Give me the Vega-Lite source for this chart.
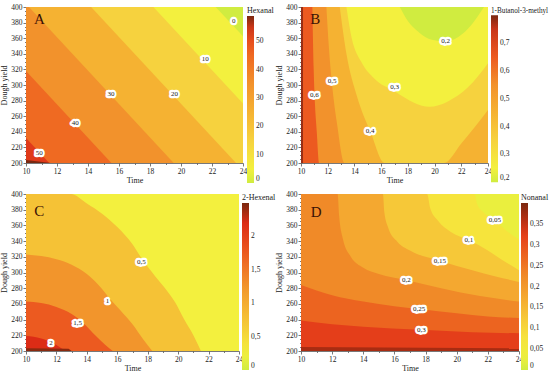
{
"$schema": "https://vega.github.io/schema/vega-lite/v6.json",
"background": "white",
"padding": {"left": 0, "top": 3, "right": 0, "bottom": 0},
"datasets": {
"A": [
{"v":0,"t":10,"y":400},{"v":0,"t":24,"y":400},
{"v":5,"t":10,"y":400},{"v":5,"t":22.24,"y":400},{"v":5,"t":24,"y":362.4},
{"v":15,"t":10,"y":400},{"v":15,"t":18.22,"y":400},{"v":15,"t":24,"y":276.4},
{"v":25,"t":10,"y":400},{"v":25,"t":14.2,"y":400},{"v":25,"t":23.55,"y":200},
{"v":35,"t":10,"y":400},{"v":35,"t":10.19,"y":400},{"v":35,"t":19.53,"y":200},
{"v":45,"t":10,"y":318},{"v":45,"t":15.51,"y":200},
{"v":54,"t":10,"y":232},{"v":54,"t":11.5,"y":200},
{"v":59,"t":10,"y":204},{"v":59,"t":11.6,"y":200}
],
"B": [
{"v":0.78,"t":10,"y":200},{"v":0.78,"t":24,"y":200},
{"v":0.65,"t":10.15,"y":200},{"v":0.65,"t":24,"y":200},
{"v":0.55,"t":10.85,"y":400},{"v":0.55,"t":10.95,"y":320},{"v":0.55,"t":11.02,"y":285},{"v":0.55,"t":11.18,"y":240},{"v":0.55,"t":11.35,"y":200},{"v":0.55,"t":24,"y":200},
{"v":0.45,"t":11.9,"y":400},{"v":0.45,"t":12.08,"y":350},{"v":0.45,"t":12.3,"y":305},{"v":0.45,"t":12.7,"y":250},{"v":0.45,"t":13.25,"y":200},{"v":0.45,"t":24,"y":200},
{"v":0.35,"t":12.9,"y":400},{"v":0.35,"t":13.4,"y":340},{"v":0.35,"t":14.2,"y":285},{"v":0.35,"t":15.2,"y":240},{"v":0.35,"t":16.25,"y":200},{"v":0.35,"t":20.7,"y":200},{"v":0.35,"t":22,"y":225},{"v":0.35,"t":24,"y":268},
{"v":0.25,"t":13.4,"y":400},{"v":0.25,"t":13.8,"y":360},{"v":0.25,"t":14.5,"y":330},{"v":0.25,"t":15.5,"y":308},{"v":0.25,"t":17,"y":292},{"v":0.25,"t":18.5,"y":277},{"v":0.25,"t":19.6,"y":272},{"v":0.25,"t":21,"y":279},{"v":0.25,"t":22.5,"y":297},{"v":0.25,"t":24,"y":328},
{"v":0.2,"t":17.4,"y":400},{"v":0.2,"t":18,"y":382},{"v":0.2,"t":18.8,"y":368},{"v":0.2,"t":19.8,"y":358},{"v":0.2,"t":20.8,"y":356},{"v":0.2,"t":21.8,"y":362},{"v":0.2,"t":22.8,"y":378},{"v":0.2,"t":23.7,"y":400}
],
"C": [
{"v":0.25,"t":10,"y":400},{"v":0.25,"t":24,"y":400},
{"v":0.75,"t":10,"y":400},{"v":0.75,"t":12.95,"y":400},{"v":0.75,"t":14,"y":388},{"v":0.75,"t":15,"y":375},{"v":0.75,"t":16,"y":358},{"v":0.75,"t":17,"y":336},{"v":0.75,"t":17.6,"y":318},{"v":0.75,"t":18.5,"y":295},{"v":0.75,"t":19.1,"y":281},{"v":0.75,"t":19.8,"y":262},{"v":0.75,"t":20.4,"y":240},{"v":0.75,"t":21,"y":220},{"v":0.75,"t":21.5,"y":200},
{"v":1.25,"t":10,"y":323},{"v":1.25,"t":11,"y":321},{"v":1.25,"t":12,"y":317},{"v":1.25,"t":13,"y":310},{"v":1.25,"t":14,"y":298},{"v":1.25,"t":15,"y":279},{"v":1.25,"t":15.5,"y":267},{"v":1.25,"t":16.2,"y":252},{"v":1.25,"t":17,"y":234},{"v":1.25,"t":17.7,"y":215},{"v":1.25,"t":18.3,"y":200},
{"v":1.75,"t":10,"y":263},{"v":1.75,"t":11,"y":261},{"v":1.75,"t":12,"y":256},{"v":1.75,"t":13,"y":247},{"v":1.75,"t":13.8,"y":235},{"v":1.75,"t":14.6,"y":219},{"v":1.75,"t":15.2,"y":208},{"v":1.75,"t":15.7,"y":200},
{"v":2.2,"t":10,"y":219},{"v":2.2,"t":11,"y":216},{"v":2.2,"t":11.7,"y":211},{"v":2.2,"t":12.2,"y":205},{"v":2.2,"t":12.6,"y":200},
{"v":2.45,"t":10,"y":203.5},{"v":2.45,"t":12.8,"y":203},{"v":2.45,"t":13,"y":200}
],
"D": [
{"v":0.025,"t":10,"y":400},{"v":0.025,"t":24,"y":400},
{"v":0.075,"t":10,"y":400},{"v":0.075,"t":21.15,"y":400},{"v":0.075,"t":21.3,"y":388},{"v":0.075,"t":21.7,"y":377},{"v":0.075,"t":22.45,"y":367},{"v":0.075,"t":23.2,"y":353},{"v":0.075,"t":24,"y":342},
{"v":0.125,"t":10,"y":400},{"v":0.125,"t":18.1,"y":400},{"v":0.125,"t":18.3,"y":382},{"v":0.125,"t":18.8,"y":366},{"v":0.125,"t":19.6,"y":352},{"v":0.125,"t":20.8,"y":341},{"v":0.125,"t":22,"y":328},{"v":0.125,"t":23,"y":315},{"v":0.125,"t":24,"y":303},
{"v":0.175,"t":10,"y":400},{"v":0.175,"t":15.26,"y":400},{"v":0.175,"t":15.35,"y":377},{"v":0.175,"t":15.6,"y":357},{"v":0.175,"t":16.2,"y":339},{"v":0.175,"t":17,"y":328},{"v":0.175,"t":18.9,"y":315},{"v":0.175,"t":21,"y":303},{"v":0.175,"t":22.5,"y":295},{"v":0.175,"t":24,"y":288},
{"v":0.225,"t":10,"y":400},{"v":0.225,"t":12.35,"y":400},{"v":0.225,"t":12.45,"y":372},{"v":0.225,"t":12.7,"y":342},{"v":0.225,"t":13.2,"y":320},{"v":0.225,"t":14,"y":306},{"v":0.225,"t":15,"y":298},{"v":0.225,"t":16.8,"y":290},{"v":0.225,"t":19,"y":280},{"v":0.225,"t":21.5,"y":270},{"v":0.225,"t":24,"y":263},
{"v":0.275,"t":10,"y":284},{"v":0.275,"t":11,"y":277},{"v":0.275,"t":12,"y":271},{"v":0.275,"t":14,"y":263},{"v":0.275,"t":16,"y":257},{"v":0.275,"t":17.6,"y":253.5},{"v":0.275,"t":20,"y":248},{"v":0.275,"t":22,"y":244},{"v":0.275,"t":24,"y":242},
{"v":0.325,"t":10,"y":239},{"v":0.325,"t":12,"y":234},{"v":0.325,"t":14,"y":231},{"v":0.325,"t":17.7,"y":227},{"v":0.325,"t":21,"y":224},{"v":0.325,"t":24,"y":222.5},
{"v":0.37,"t":10,"y":205},{"v":0.37,"t":24,"y":203.5}
],
"Alab": [{"t":10.86,"y":213,"s":"50"},{"t":13.17,"y":251,"s":"40"},{"t":15.49,"y":288.5,"s":"30"},{"t":19.58,"y":288.5,"s":"20"},{"t":21.57,"y":333.8,"s":"10"},{"t":23.4,"y":381.6,"s":"0"}],
"Blab": [{"t":11.0,"y":286.8,"s":"0,6"},{"t":12.33,"y":304.7,"s":"0,5"},{"t":15.18,"y":240.6,"s":"0,4"},{"t":17.0,"y":297,"s":"0,3"},{"t":20.83,"y":356,"s":"0,2"}],
"Clab": [{"t":17.59,"y":313.3,"s":"0,5"},{"t":15.36,"y":263.9,"s":"1"},{"t":13.39,"y":236,"s":"1,5"},{"t":11.64,"y":210.6,"s":"2"}],
"Dlab": [{"t":22.45,"y":366.9,"s":"0,05"},{"t":20.78,"y":341.4,"s":"0,1"},{"t":18.92,"y":315.1,"s":"0,15"},{"t":16.77,"y":290.4,"s":"0,2"},{"t":17.58,"y":253.5,"s":"0,25"},{"t":17.73,"y":226.8,"s":"0,3"}]
},
"vconcat": [
{"hconcat": [
{
"width": 217, "height": 156,
"encoding": {
"x": {"field": "t", "type": "quantitative", "title": "Time", "scale": {"domain": [10, 24], "nice": false, "zero": false}, "axis": {"values": [10,11,12,13,14,15,16,17,18,19,20,21,22,23,24], "labelExpr": "datum.value % 2 === 0 ? datum.label : ''", "tickSize": {"condition": {"test": "datum.value % 2 === 0", "value": 3}, "value": 1.5}, "labelFlush": false}},
"y": {"field": "y", "type": "quantitative", "title": "Dough yield", "scale": {"domain": [200, 400], "nice": false, "zero": false}, "axis": {"values": [200,205,210,215,220,225,230,235,240,245,250,255,260,265,270,275,280,285,290,295,300,305,310,315,320,325,330,335,340,345,350,355,360,365,370,375,380,385,390,395,400], "labelExpr": "datum.value % 20 === 0 ? datum.label : ''", "tickSize": {"condition": {"test": "datum.value % 20 === 0", "value": 3}, "value": 1.5}, "labelFlush": false}}
},
"layer": [
{"data": {"name": "A"},
"encoding": {"y2": {"datum": 200}, "color": {"field": "v", "type": "quantitative", "title": "Hexanal", "scale": {"type": "linear", "domain": [0,5,15,25,35,45,54,59], "range": ["#d0ec40","#f3f03e","#f6d23e","#f5b232","#f2922c","#ef6a22","#e03a1a","#7a2810"], "interpolate": "rgb", "clamp": true}, "legend": {"values": [0,10,20,30,40,50], "labelExpr": "replace(toString(datum.value), '.', ',')"}}},
"layer": [
{"transform": [{"filter": {"field": "v", "equal": 0}}], "mark": {"type": "area", "clip": true}},
{"transform": [{"filter": {"field": "v", "equal": 5}}], "mark": {"type": "area", "clip": true}},
{"transform": [{"filter": {"field": "v", "equal": 15}}], "mark": {"type": "area", "clip": true}},
{"transform": [{"filter": {"field": "v", "equal": 25}}], "mark": {"type": "area", "clip": true}},
{"transform": [{"filter": {"field": "v", "equal": 35}}], "mark": {"type": "area", "clip": true}},
{"transform": [{"filter": {"field": "v", "equal": 45}}], "mark": {"type": "area", "clip": true}},
{"transform": [{"filter": {"field": "v", "equal": 54}}], "mark": {"type": "area", "clip": true}},
{"transform": [{"filter": {"field": "v", "equal": 59}}], "mark": {"type": "area", "clip": true}}
]},
{"data": {"name": "Alab"}, "mark": {"type": "text", "fontSize": 7, "fill": "white", "stroke": "white", "strokeWidth": 4.5, "strokeJoin": "round"}, "encoding": {"text": {"field": "s", "type": "nominal"}}},
{"data": {"name": "Alab"}, "mark": {"type": "text", "fontSize": 7, "fill": "#222"}, "encoding": {"text": {"field": "s", "type": "nominal"}}},
{"data": {"values": [{"t": 10.86, "y": 384, "s": "A"}]}, "mark": {"type": "text", "fontSize": 15, "fill": "#3a1005"}, "encoding": {"text": {"field": "s", "type": "nominal"}}}
]
},
{
"width": 187, "height": 156,
"encoding": {
"x": {"field": "t", "type": "quantitative", "title": "Time", "scale": {"domain": [10, 24], "nice": false, "zero": false}, "axis": {"values": [10,11,12,13,14,15,16,17,18,19,20,21,22,23,24], "labelExpr": "datum.value % 2 === 0 ? datum.label : ''", "tickSize": {"condition": {"test": "datum.value % 2 === 0", "value": 3}, "value": 1.5}, "labelFlush": false}},
"y": {"field": "y", "type": "quantitative", "title": "Dough yield", "scale": {"domain": [200, 400], "nice": false, "zero": false}, "axis": {"values": [200,205,210,215,220,225,230,235,240,245,250,255,260,265,270,275,280,285,290,295,300,305,310,315,320,325,330,335,340,345,350,355,360,365,370,375,380,385,390,395,400], "labelExpr": "datum.value % 20 === 0 ? datum.label : ''", "tickSize": {"condition": {"test": "datum.value % 20 === 0", "value": 3}, "value": 1.5}, "labelFlush": false}}
},
"layer": [
{"data": {"name": "B"},
"encoding": {"y2": {"datum": 400}, "color": {"field": "v", "type": "quantitative", "title": "1-Butanol-3-methyl", "scale": {"type": "linear", "domain": [0.2,0.25,0.35,0.45,0.55,0.65,0.75,0.8], "range": ["#d0ec40","#f3f03e","#f6d23e","#f5b232","#f2922c","#ec5a20","#c8361a","#7a2810"], "interpolate": "rgb", "clamp": true}, "legend": {"values": [0.2,0.3,0.4,0.5,0.6,0.7], "labelExpr": "replace(toString(datum.value), '.', ',')", "titleFontSize": 7.2, "offset": 3}}},
"layer": [
{"transform": [{"filter": {"field": "v", "equal": 0.78}}], "mark": {"type": "area", "clip": true, "interpolate": "monotone"}},
{"transform": [{"filter": {"field": "v", "equal": 0.65}}], "mark": {"type": "area", "clip": true, "interpolate": "monotone"}},
{"transform": [{"filter": {"field": "v", "equal": 0.55}}], "mark": {"type": "area", "clip": true, "interpolate": "monotone"}},
{"transform": [{"filter": {"field": "v", "equal": 0.45}}], "mark": {"type": "area", "clip": true, "interpolate": "monotone"}},
{"transform": [{"filter": {"field": "v", "equal": 0.35}}], "mark": {"type": "area", "clip": true, "interpolate": "monotone"}},
{"transform": [{"filter": {"field": "v", "equal": 0.25}}], "mark": {"type": "area", "clip": true, "interpolate": "monotone"}},
{"transform": [{"filter": {"field": "v", "equal": 0.2}}], "mark": {"type": "area", "clip": true, "interpolate": "monotone"}}
]},
{"data": {"name": "Blab"}, "mark": {"type": "text", "fontSize": 7, "fill": "white", "stroke": "white", "strokeWidth": 4.5, "strokeJoin": "round"}, "encoding": {"text": {"field": "s", "type": "nominal"}}},
{"data": {"name": "Blab"}, "mark": {"type": "text", "fontSize": 7, "fill": "#222"}, "encoding": {"text": {"field": "s", "type": "nominal"}}},
{"data": {"values": [{"t": 11.07, "y": 384, "s": "B"}]}, "mark": {"type": "text", "fontSize": 15, "fill": "#3a1005"}, "encoding": {"text": {"field": "s", "type": "nominal"}}}
]
}
], "spacing": 58, "bounds": "flush", "resolve": {"scale": {"color": "independent", "x": "independent", "y": "independent"}, "legend": {"color": "independent"}}},
{"hconcat": [
{
"width": 213, "height": 157,
"encoding": {
"x": {"field": "t", "type": "quantitative", "title": "Time", "scale": {"domain": [10, 24], "nice": false, "zero": false}, "axis": {"values": [10,11,12,13,14,15,16,17,18,19,20,21,22,23,24], "labelExpr": "datum.value % 2 === 0 ? datum.label : ''", "tickSize": {"condition": {"test": "datum.value % 2 === 0", "value": 3}, "value": 1.5}, "labelFlush": false}},
"y": {"field": "y", "type": "quantitative", "title": "Dough yield", "scale": {"domain": [200, 400], "nice": false, "zero": false}, "axis": {"values": [200,205,210,215,220,225,230,235,240,245,250,255,260,265,270,275,280,285,290,295,300,305,310,315,320,325,330,335,340,345,350,355,360,365,370,375,380,385,390,395,400], "labelExpr": "datum.value % 20 === 0 ? datum.label : ''", "tickSize": {"condition": {"test": "datum.value % 20 === 0", "value": 3}, "value": 1.5}, "labelFlush": false}}
},
"layer": [
{"data": {"name": "C"},
"encoding": {"y2": {"datum": 200}, "color": {"field": "v", "type": "quantitative", "title": "2-Hexenal", "scale": {"type": "linear", "domain": [0,0.25,0.75,1.25,1.75,2.2,2.45,2.5], "range": ["#d0ec40","#f3f03e","#f5c236","#f2952c","#ec5a20","#dc2c16","#8a2a10","#7a2810"], "interpolate": "rgb", "clamp": true}, "legend": {"values": [0,0.5,1,1.5,2], "labelExpr": "replace(toString(datum.value), '.', ',')", "offset": 3}}},
"layer": [
{"transform": [{"filter": {"field": "v", "equal": 0.25}}], "mark": {"type": "area", "clip": true, "interpolate": "monotone"}},
{"transform": [{"filter": {"field": "v", "equal": 0.75}}], "mark": {"type": "area", "clip": true, "interpolate": "monotone"}},
{"transform": [{"filter": {"field": "v", "equal": 1.25}}], "mark": {"type": "area", "clip": true, "interpolate": "monotone"}},
{"transform": [{"filter": {"field": "v", "equal": 1.75}}], "mark": {"type": "area", "clip": true, "interpolate": "monotone"}},
{"transform": [{"filter": {"field": "v", "equal": 2.2}}], "mark": {"type": "area", "clip": true, "interpolate": "monotone"}},
{"transform": [{"filter": {"field": "v", "equal": 2.45}}], "mark": {"type": "area", "clip": true}}
]},
{"data": {"name": "Clab"}, "mark": {"type": "text", "fontSize": 7, "fill": "white", "stroke": "white", "strokeWidth": 4.5, "strokeJoin": "round"}, "encoding": {"text": {"field": "s", "type": "nominal"}}},
{"data": {"name": "Clab"}, "mark": {"type": "text", "fontSize": 7, "fill": "#222"}, "encoding": {"text": {"field": "s", "type": "nominal"}}},
{"data": {"values": [{"t": 10.87, "y": 378, "s": "C"}]}, "mark": {"type": "text", "fontSize": 15, "fill": "#3a1005"}, "encoding": {"text": {"field": "s", "type": "nominal"}}}
]
},
{
"width": 218, "height": 157,
"encoding": {
"x": {"field": "t", "type": "quantitative", "title": "Time", "scale": {"domain": [10, 24], "nice": false, "zero": false}, "axis": {"values": [10,11,12,13,14,15,16,17,18,19,20,21,22,23,24], "labelExpr": "datum.value % 2 === 0 ? datum.label : ''", "tickSize": {"condition": {"test": "datum.value % 2 === 0", "value": 3}, "value": 1.5}, "labelFlush": false}},
"y": {"field": "y", "type": "quantitative", "title": "Dough yield", "scale": {"domain": [200, 400], "nice": false, "zero": false}, "axis": {"values": [200,205,210,215,220,225,230,235,240,245,250,255,260,265,270,275,280,285,290,295,300,305,310,315,320,325,330,335,340,345,350,355,360,365,370,375,380,385,390,395,400], "labelExpr": "datum.value % 20 === 0 ? datum.label : ''", "tickSize": {"condition": {"test": "datum.value % 20 === 0", "value": 3}, "value": 1.5}, "labelFlush": false}}
},
"layer": [
{"data": {"name": "D"},
"encoding": {"y2": {"datum": 200}, "color": {"field": "v", "type": "quantitative", "title": "Nonanal", "scale": {"type": "linear", "domain": [0,0.025,0.075,0.125,0.175,0.225,0.275,0.325,0.37,0.4], "range": ["#d0ec40","#eaef3e","#f6e43c","#f6c838","#f4a830","#f08a28","#ec6420","#e43e1a","#a82c12","#7a2810"], "interpolate": "rgb", "clamp": true}, "legend": {"values": [0,0.05,0.1,0.15,0.2,0.25,0.3,0.35], "labelExpr": "replace(toString(datum.value), '.', ',')", "offset": 2}}},
"layer": [
{"transform": [{"filter": {"field": "v", "equal": 0.025}}], "mark": {"type": "area", "clip": true, "interpolate": "monotone"}},
{"transform": [{"filter": {"field": "v", "equal": 0.075}}], "mark": {"type": "area", "clip": true, "interpolate": "monotone"}},
{"transform": [{"filter": {"field": "v", "equal": 0.125}}], "mark": {"type": "area", "clip": true, "interpolate": "monotone"}},
{"transform": [{"filter": {"field": "v", "equal": 0.175}}], "mark": {"type": "area", "clip": true, "interpolate": "monotone"}},
{"transform": [{"filter": {"field": "v", "equal": 0.225}}], "mark": {"type": "area", "clip": true, "interpolate": "monotone"}},
{"transform": [{"filter": {"field": "v", "equal": 0.275}}], "mark": {"type": "area", "clip": true, "interpolate": "monotone"}},
{"transform": [{"filter": {"field": "v", "equal": 0.325}}], "mark": {"type": "area", "clip": true, "interpolate": "monotone"}},
{"transform": [{"filter": {"field": "v", "equal": 0.37}}], "mark": {"type": "area", "clip": true}}
]},
{"data": {"name": "Dlab"}, "mark": {"type": "text", "fontSize": 7, "fill": "white", "stroke": "white", "strokeWidth": 4.5, "strokeJoin": "round"}, "encoding": {"text": {"field": "s", "type": "nominal"}}},
{"data": {"name": "Dlab"}, "mark": {"type": "text", "fontSize": 7, "fill": "#222"}, "encoding": {"text": {"field": "s", "type": "nominal"}}},
{"data": {"values": [{"t": 10.97, "y": 377.5, "s": "D"}]}, "mark": {"type": "text", "fontSize": 15, "fill": "#3a1005"}, "encoding": {"text": {"field": "s", "type": "nominal"}}}
]
}
], "spacing": 62, "bounds": "flush", "resolve": {"scale": {"color": "independent", "x": "independent", "y": "independent"}, "legend": {"color": "independent"}}}
],
"spacing": 5,
"resolve": {"scale": {"color": "independent", "x": "independent", "y": "independent"}, "legend": {"color": "independent"}},
"config": {
"font": "Liberation Serif",
"view": {"stroke": null},
"axis": {"labelFont": "Liberation Serif", "labelFontSize": 7.5, "labelColor": "#222", "titleFont": "Liberation Serif", "titleFontSize": 8, "titleFontWeight": "normal", "titleColor": "#222", "domainColor": "#555", "domainWidth": 0.8, "tickColor": "#555", "tickWidth": 0.8, "grid": false, "labelPadding": 1, "titlePadding": 2, "labelOverlap": false},
"legend": {"titleFont": "Liberation Serif", "titleFontSize": 8, "titleFontWeight": "normal", "titleColor": "#222", "labelFont": "Liberation Serif", "labelFontSize": 7.5, "labelColor": "#222", "gradientLength": 167, "gradientThickness": 7, "offset": 4, "labelOffset": 3, "titlePadding": 1, "labelOverlap": false, "gradientStrokeWidth": 0, "titleLimit": 300},
"locale": {"number": {"decimal": ",", "thousands": ".", "grouping": [3], "currency": ["", "€"]}}
}
}
